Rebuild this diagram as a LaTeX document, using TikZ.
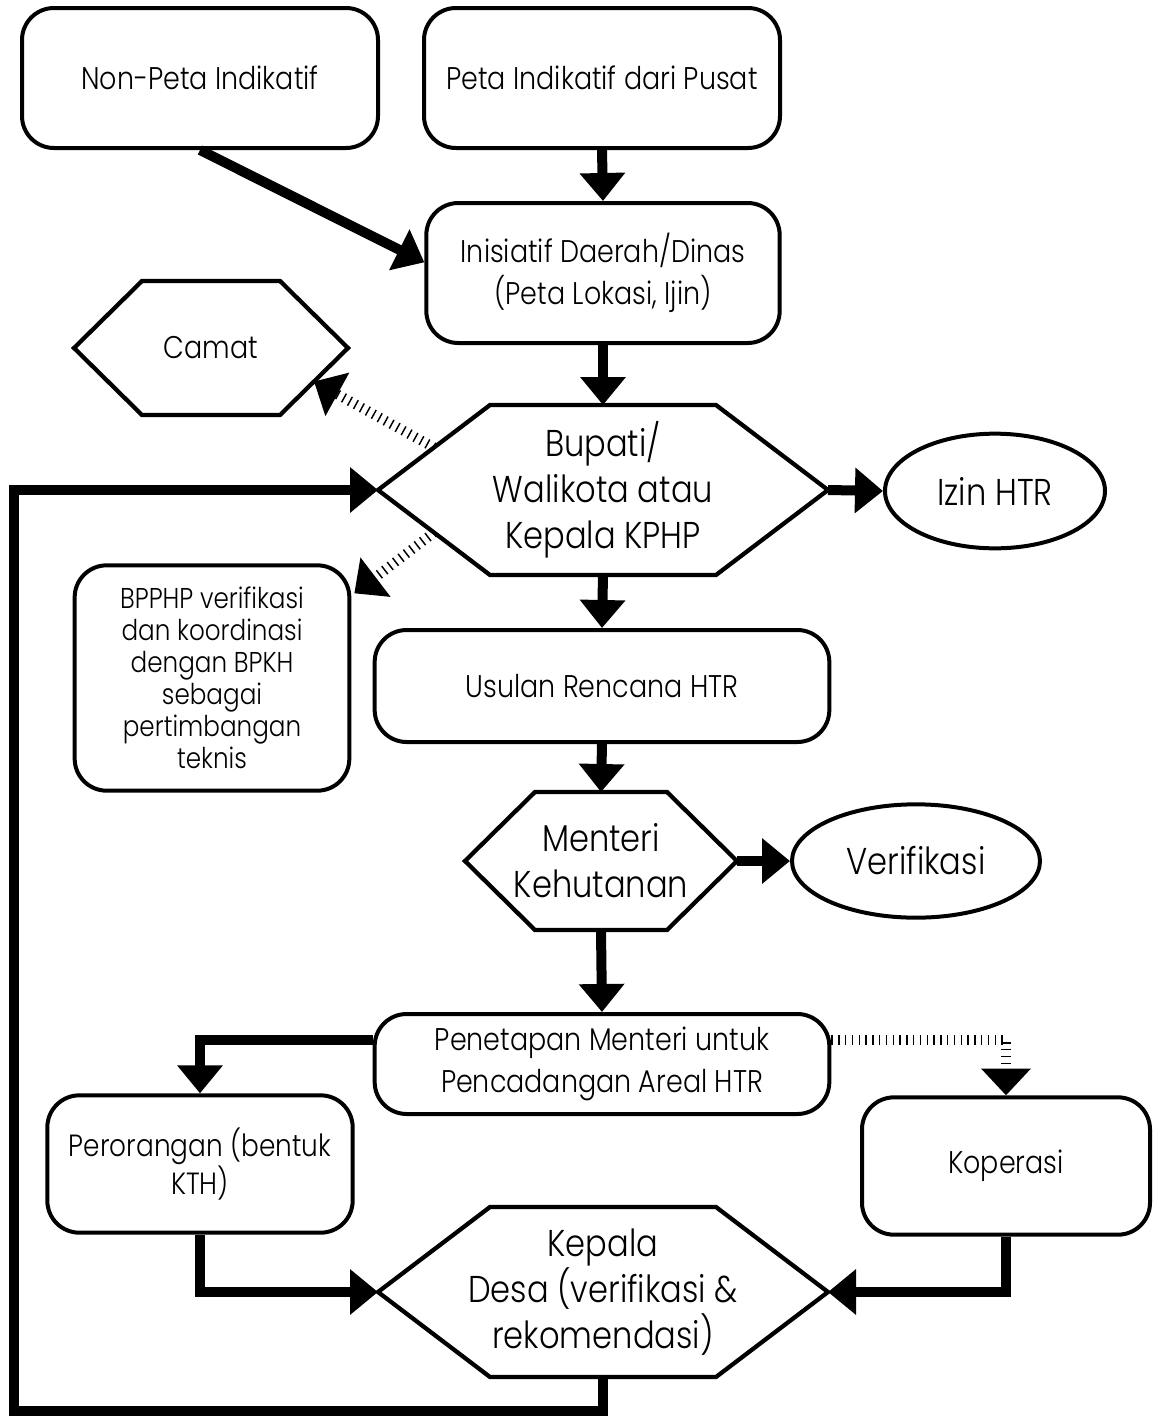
\documentclass[tikz,border=0pt]{standalone}
\usepackage{fontspec}
\setmainfont{Poppins}[UprightFont=* Light, FakeStretch=0.86]
\usetikzlibrary{arrows.meta,shapes.geometric,calc}

\newcommand\fsmall{\fontsize{23.5}{31.5}\selectfont}
\newcommand\fbig{\fontsize{28}{34.5}\selectfont}
\newcommand\ftiny{\fontsize{21.5}{24}\selectfont}

% hexagon: name, centre x, centre y, half width, inset, half height, text, font
\newcommand\hexbox[8]{%
  \draw[hexline] ({#2-#4},#3) -- ({#2-#4+#5},{#3-#6}) -- ({#2+#4-#5},{#3-#6})
     -- ({#2+#4},#3) -- ({#2+#4-#5},{#3+#6}) -- ({#2-#4+#5},{#3+#6}) -- cycle;
  \coordinate (#1-w) at ({#2-#4},#3);
  \coordinate (#1-e) at ({#2+#4},#3);
  \coordinate (#1-n) at (#2,{#3-#6});
  \coordinate (#1-s) at (#2,{#3+#6});
  \coordinate (#1-nw) at ({#2-#4+#5},{#3-#6});
  \coordinate (#1-sw) at ({#2-#4+#5},{#3+#6});
  \coordinate (#1-se) at ({#2+#4-#5},{#3+#6});
  \node[align=center,font=#8] (#1) at (#2,#3) {#7};
}

\begin{document}
\begin{tikzpicture}[x=0.75pt,y=-0.75pt,
  box/.style={draw,line width=3pt,rounded corners=24pt,align=center,inner sep=0pt,font=\fsmall},
  ovalbox/.style={draw,ellipse,line width=3pt,inner sep=0pt,font=\fbig},
  hexline/.style={line width=3.2pt,line join=miter},
  flow/.style={line width=7.5pt,line join=miter,-{Triangle[length=21pt,width=33pt]}},
  hatch/.style={line width=7.5pt,dash pattern=on 1.1pt off 4pt,-{Triangle[length=20pt,width=36pt]}}]

\useasboundingbox (0,0) rectangle (1156,1422);

% rounded process boxes
\node[box,minimum width=267pt,minimum height=105pt] (nonpeta) at (200,78) {Non-Peta Indikatif};
\node[box,minimum width=267pt,minimum height=105pt] (peta) at (602,78) {Peta Indikatif dari Pusat};
\node[box,minimum width=265pt,minimum height=105pt] (ini) at (603,273) {Inisiatif Daerah/Dinas\\(Peta Lokasi, Ijin)};
\node[box,font=\ftiny,minimum width=206pt,minimum height=169pt] (bpphp) at (212,678)
  {BPPHP verifikasi\\dan koordinasi\\dengan BPKH\\sebagai\\pertimbangan\\teknis};
\node[box,minimum width=341pt,minimum height=84pt] (usulan) at (602,686) {Usulan Rencana HTR};
\node[box,minimum width=341pt,minimum height=75pt] (pen) at (602,1064) {Penetapan Menteri untuk\\Pencadangan Areal HTR};
\node[box,font=\fontsize{23}{29}\selectfont,minimum width=229pt,minimum height=103pt] (peror) at (200,1164) {Perorangan (bentuk\\KTH)};
\node[box,minimum width=216pt,minimum height=103pt] (kop) at (1006,1166) {Koperasi};

% outcome ellipses
\node[ovalbox,minimum width=165pt,minimum height=86pt] (izin) at (995,491) {Izin HTR};
\node[ovalbox,minimum width=186pt,minimum height=85pt] (verif) at (916,861) {Verifikasi};

% decision hexagons
\hexbox{cam}{211}{348}{137}{68}{67}{Camat}{\fsmall}
\hexbox{bup}{603}{490}{225}{112}{85}{Bupati/\\Walikota atau\\Kepala KPHP}{\fbig}
\hexbox{men}{601}{861}{136}{70}{69}{Menteri\\Kehutanan}{\fbig}
\hexbox{kep}{603}{1292}{225}{112}{85}{Kepala\\Desa (verifikasi \&\\rekomendasi)}{\fbig}

% main flow
\draw[flow] (peta.south) -- (ini.north);
\draw[flow] (nonpeta.south) -- ([yshift=8pt]ini.west);
\draw[flow] (ini.south) -- (bup-n);
\draw[flow] (bup-e) -- (izin.west);
\draw[flow] (bup-s) -- (usulan.north);
\draw[flow] (usulan.south) -- (men-n);
\draw[flow] (men-e) -- (verif.west);
\draw[flow] (men-s) -- (pen.north);
\draw[flow] ([yshift=18pt]pen.west) -| (peror.north);
\draw[flow] (peror.south) |- (kep-w);
\draw[flow] (kop.south) |- (kep-e);

% feedback loop back to the Bupati
\coordinate (loop) at (14,1411);
\draw[flow] (kep-s) |- (loop) |- (bup-w);

% consultation links
\draw[hatch] ($(bup-w)!0.5!(bup-nw)$) -- ($(cam-e)!0.5!(cam-se)$);
\draw[hatch] ($(bup-w)!0.5!(bup-sw)$) -- ($(bpphp.north east)+(3,30)$);
\draw[hatch] ([yshift=18pt]pen.east) -| (kop.north);
\end{tikzpicture}
\end{document}
